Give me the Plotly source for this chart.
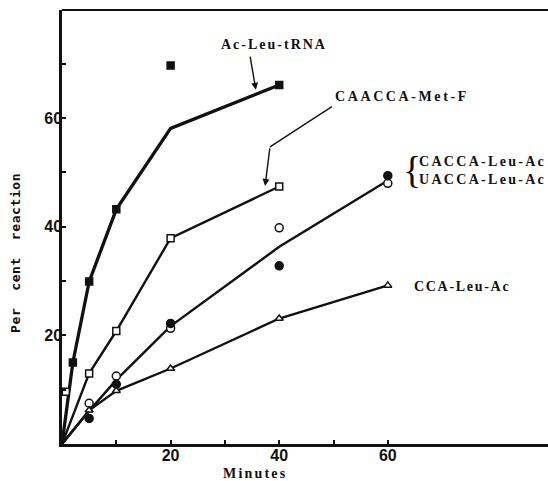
import plotly.graph_objects as go

# ---- data ----
# Ac-Leu-tRNA (filled squares)
ac_min = [2, 5, 10, 20, 40]
ac_pct = [15.0, 29.9, 43.2, 69.7, 66.1]
ac_curve_min = [0, 2, 5, 10, 20, 40]
ac_curve_pct = [0, 15.0, 29.9, 43.2, 58.1, 66.1]

# CAACCA-Met-F (open squares)
met_min = [0.7, 5, 10, 20, 40]
met_pct = [9.6, 13.0, 20.8, 37.9, 47.4]
met_curve_min = [0, 5, 10, 20, 40]
met_curve_pct = [0, 13.0, 20.8, 37.9, 47.4]

# CACCA-Leu-Ac (filled circles) and UACCA-Leu-Ac (open circles)
leu_min = [5, 10, 20, 40, 60]
cacca_pct = [4.7, 11.0, 22.2, 32.8, 49.4]
uacca_pct = [7.5, 12.5, 21.3, 39.8, 48.0]
leu_curve_min = [0, 5, 10, 20, 40, 60]
leu_curve_pct = [0, 6.1, 11.8, 21.7, 36.3, 48.5]

# CCA-Leu-Ac (open triangles)
cca_min = [5, 10, 20, 40, 60]
cca_pct = [6.2, 9.8, 13.9, 23.1, 29.2]
cca_curve_min = [0, 5, 10, 20, 40, 60]
cca_curve_pct = [0, 6.2, 9.8, 13.9, 23.1, 29.2]

tick_vals = [10, 20, 30, 40, 50, 60, 70]
tick_text = ["", "<b>20</b>", "", "<b>40</b>", "", "<b>60</b>", ""]

BLACK = "#111111"
fig = go.Figure()

def curve(x, y, w):
    fig.add_trace(go.Scatter(x=x, y=y, mode="lines",
                             line=dict(color=BLACK, width=w), hoverinfo="skip"))

def pts(x, y, symbol, size, fill):
    fig.add_trace(go.Scatter(x=x, y=y, mode="markers",
                             marker=dict(symbol=symbol, size=size, color=fill,
                                         line=dict(color=BLACK, width=1.5))))

curve(ac_curve_min, ac_curve_pct, 3.3)
curve(met_curve_min, met_curve_pct, 2.4)
curve(leu_curve_min, leu_curve_pct, 2.4)
curve(cca_curve_min, cca_curve_pct, 2.4)

pts(ac_min, ac_pct, "square", 7, BLACK)
pts(met_min, met_pct, "square", 7, "white")
pts(leu_min, uacca_pct, "circle", 8, "white")
pts(leu_min, cacca_pct, "circle", 8, BLACK)
pts(cca_min, cca_pct, "triangle-up", 7, "white")

SERIF = "Liberation Serif, DejaVu Serif, serif"
label_font = dict(family=SERIF, size=14, color=BLACK)

def spaced(t, s):
    return '<span style="letter-spacing:%spx"><b>%s</b></span>' % (s, t)

annotations = [
    dict(x=39.1, y=73.5, text=spaced("Ac-Leu-tRNA", 2), showarrow=False, font=label_font),
    dict(x=62.7, y=63.9, text=spaced("CAACCA-Met-F", 2.6), showarrow=False, font=label_font),
    dict(x=73.6, y=29.0, text=spaced("CCA-Leu-Ac", 1.7), showarrow=False, font=label_font),
    dict(x=65.3, y=50.3,
         text=spaced("CACCA-Leu-Ac", 2.3) + "<br>" + spaced("UACCA-Leu-Ac", 2.3),
         showarrow=False, xanchor="left", align="left", font=label_font),
    dict(x=66.5, y=50.5, text="{", showarrow=False, xanchor="right",
         font=dict(family=SERIF, size=38, color=BLACK)),
    # arrows
    dict(x=35.7, y=65.2, ax=34.6, ay=71.6, axref="x", ayref="y", text="",
         showarrow=True, arrowhead=2, arrowsize=1, arrowwidth=1.4, arrowcolor=BLACK),
    dict(x=37.4, y=47.5, ax=38.3, ay=54.7, axref="x", ayref="y", text="",
         showarrow=True, arrowhead=2, arrowsize=1, arrowwidth=1.4, arrowcolor=BLACK),
    # axis titles
    dict(x=35.5, y=-0.047, yref="paper", yanchor="top", text=spaced("Minutes", 2.2),
         showarrow=False, font=dict(family=SERIF, size=14, color=BLACK)),
    dict(x=-0.097, y=0.44, xref="paper", yref="paper", xanchor="center",
         text='<span style="letter-spacing:0.6px"><b>Per  cent  reaction</b></span>',
         showarrow=False, textangle=-90,
         font=dict(family="DejaVu Sans Mono, monospace", size=13, color=BLACK)),
]

shapes = [
    dict(type="line", xref="x", yref="y", x0=38.3, y0=54.7, x1=49.7, y1=62.1,
         line=dict(color=BLACK, width=1.4)),
    dict(type="line", xref="paper", yref="paper", x0=0, x1=1, y0=1, y1=1,
         line=dict(color=BLACK, width=2)),
]

tick_font = dict(family="Liberation Sans Narrow, Liberation Sans, Arial, sans-serif",
                 size=16, color=BLACK)

fig.update_layout(
    width=548, height=481,
    margin=dict(l=62, r=0, t=10, b=37),
    paper_bgcolor="white", plot_bgcolor="white",
    showlegend=False,
    annotations=annotations,
    shapes=shapes,
    xaxis=dict(range=[0, 89.5], showgrid=False, zeroline=False,
               showline=True, linecolor=BLACK, linewidth=3,
               tickmode="array", tickvals=tick_vals[:6], ticktext=tick_text[:6],
               ticks="inside", ticklen=4, tickwidth=1.5, tickcolor=BLACK,
               tickfont=tick_font, ticklabelstandoff=-5),
    yaxis=dict(range=[0, 79.9], showgrid=False, zeroline=False,
               showline=True, linecolor=BLACK, linewidth=2.5,
               tickmode="array", tickvals=tick_vals, ticktext=tick_text,
               ticks="inside", ticklen=4, tickwidth=1.5, tickcolor=BLACK,
               tickfont=tick_font, ticklabelstandoff=-6),
)

fig.write_html("out.html", config={"displayModeBar": False},
               post_script="document.body.style.margin='0';")
